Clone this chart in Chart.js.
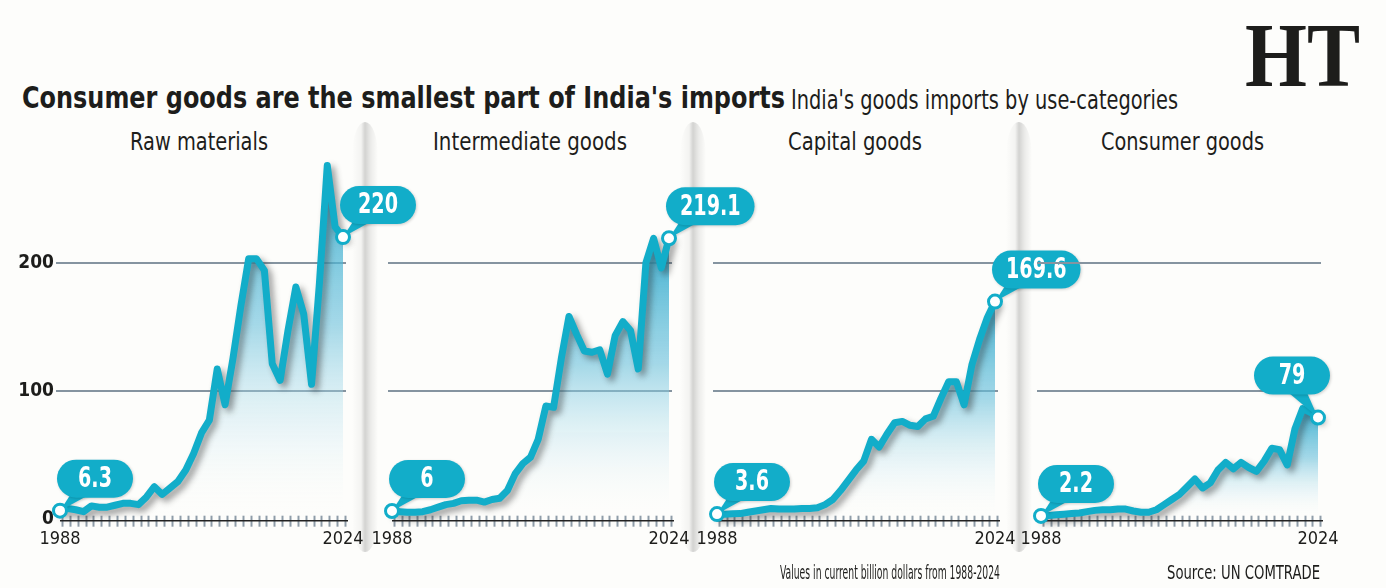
<!DOCTYPE html>
<html>
<head>
<meta charset="utf-8">
<title>India's goods imports by use-categories</title>
<script src="https://cdn.jsdelivr.net/npm/chart.js@4.4.1/dist/chart.umd.min.js"></script>
<style>
  body { margin: 0; background: #fdfdfb; }
  #page {
    position: relative; width: 1386px; height: 588px; overflow: hidden;
    background: #fdfdfb; color: #1d1d1b;
    font-family: "Liberation Sans Narrow", "DejaVu Sans Condensed", sans-serif;
  }
  .txt { position: absolute; white-space: nowrap; transform-origin: 0 0; }
  .fold {
    position: absolute; top: 122px; height: 430px; width: 26px;
    background: linear-gradient(to right, rgba(0,0,0,0) 0%, rgba(0,0,0,0.04) 35%, rgba(0,0,0,0.17) 50%, rgba(0,0,0,0.07) 72%, rgba(0,0,0,0) 100%);
    border-radius: 50% / 8%;
  }
  canvas { position: absolute; }
</style>
</head>
<body>
<div id="page">
  <div class="fold" style="left:352px"></div>
  <div class="fold" style="left:680px"></div>
  <div class="fold" style="left:1006px"></div>

  <div class="txt" data-w="763" style="left:22px;top:80px;font-size:30px;line-height:36px;font-weight:bold;">Consumer goods are the smallest part of India's imports</div>
  <div class="txt" data-w="387" style="left:791px;top:84px;font-size:27px;line-height:32px;">India's goods imports by use-categories</div>
  <div class="txt" data-w="115" style="left:1245px;top:9px;font-family:'Liberation Serif',serif;font-size:92px;line-height:92px;font-weight:bold;">HT</div>

  <div class="txt" data-w="138" style="left:130px;top:127px;font-size:25px;line-height:30px;">Raw materials</div>
  <div class="txt" data-w="194" style="left:433px;top:127px;font-size:25px;line-height:30px;">Intermediate goods</div>
  <div class="txt" data-w="134" style="left:788px;top:127px;font-size:25px;line-height:30px;">Capital goods</div>
  <div class="txt" data-w="163" style="left:1101px;top:127px;font-size:25px;line-height:30px;">Consumer goods</div>

  <canvas id="c1"></canvas>
  <canvas id="c2"></canvas>
  <canvas id="c3"></canvas>
  <canvas id="c4"></canvas>

  <div class="txt" data-w="220" style="left:780px;top:560px;font-size:19px;line-height:24px;">Values in current billion dollars from 1988-2024</div>
  <div class="txt" data-w="153" style="left:1167px;top:560px;font-size:19px;line-height:24px;">Source: UN COMTRADE</div>
</div>

<script>
/* India's goods imports by use-category, billion US$ */

var YEARS = ['1988', '1989', '1990', '1991', '1992', '1993', '1994', '1995', '1996', '1997',
  '1998', '1999', '2000', '2001', '2002', '2003', '2004', '2005', '2006', '2007',
  '2008', '2009', '2010', '2011', '2012', '2013', '2014', '2015', '2016', '2017',
  '2018', '2019', '2020', '2021', '2022', '2023', '2024'];

var RAW_MATERIALS = [6.3, 8, 7, 5.5, 10, 9, 9, 10.5, 12, 12,
  11, 17, 25, 19, 24, 29, 38, 51, 67, 77,
  117, 89, 125, 166, 203, 203, 194, 121, 108, 147,
  181, 160, 105, 184, 276, 228, 220];

var INTERMEDIATE_GOODS = [6, 5.5, 5, 5, 5.5, 7, 9, 11, 12, 14,
  14.5, 14.5, 13, 15, 16, 22, 35, 43, 48, 62,
  88, 87, 125, 158, 144, 131, 130, 132, 113, 143,
  154, 147, 117, 200, 219, 196, 219.1];

var CAPITAL_GOODS = [3.6, 3.5, 3.8, 4, 5, 6, 7, 8, 7.5, 7.5,
  7.5, 8, 8, 8.5, 11, 15, 22, 30, 38, 45,
  62, 56, 66, 75, 76, 73, 72, 78, 80, 94,
  107, 107, 89, 120, 140, 157, 169.6];

var CONSUMER_GOODS = [2.2, 2.5, 3, 3.5, 4, 4.5, 5.5, 6.5, 7, 7,
  7.5, 7.5, 6, 5, 5, 7, 11, 15, 19, 25,
  31, 24, 28, 38, 44, 39, 44, 40, 37, 45,
  55, 54, 42, 70, 86, 83, 79];

var Y_TICKS = [0, 100, 200];
var Y_MAX = 290;

var FONT = '"Liberation Sans Narrow", "DejaVu Sans Condensed", sans-serif';
var CYAN = '#12adc9';
var INK = '#1d1d1b';

// where each small chart sits on the page (x of first and last year)
var PANELS = [
  { id: 'c1', values: RAW_MATERIALS, x0: 60, x1: 343, showY: true, endSide: 'right' },
  { id: 'c2', values: INTERMEDIATE_GOODS, x0: 392, x1: 669, showY: false, endSide: 'right' },
  { id: 'c3', values: CAPITAL_GOODS, x0: 717, x1: 995, showY: false, endSide: 'right' },
  { id: 'c4', values: CONSUMER_GOODS, x0: 1041, x1: 1318, showY: false, endSide: 'left' }
];

var CANVAS_TOP = 120;
var CANVAS_H = 440;
var AXIS_W = 60;
var EXTRA_RIGHT = 90;

function fitTexts() {
  var els = document.querySelectorAll('.txt');
  var i;
  for (i = 0; i < els.length; i += 1) {
    var target = parseFloat(els[i].getAttribute('data-w'));
    var w = els[i].getBoundingClientRect().width;
    if (target && w > 0) {
      els[i].style.transform = 'scaleX(' + (target / w) + ')';
    }
  }
}

function pillPath(ctx, x, y, w, h) {
  var r = h / 2;
  ctx.beginPath();
  ctx.moveTo(x + r, y);
  ctx.lineTo(x + w - r, y);
  ctx.arc(x + w - r, y + r, r, -Math.PI / 2, Math.PI / 2);
  ctx.lineTo(x + r, y + h);
  ctx.arc(x + r, y + r, r, Math.PI / 2, Math.PI * 1.5);
  ctx.closePath();
}

function drawCallout(ctx, px, py, text, side) {
  var squeeze = 0.76;
  ctx.save();
  ctx.font = 'bold 28px ' + FONT;
  var tw = ctx.measureText(text).width * squeeze;
  var w = Math.max(76, tw + 28);
  var h = 38;
  var left, bottom;

  if (side === 'left') {
    left = px + 12 - w;
    bottom = py - 23;
  } else {
    left = px - 3;
    bottom = py - 13;
  }

  ctx.fillStyle = CYAN;
  ctx.shadowColor = 'rgba(0,0,0,0.18)';
  ctx.shadowBlur = 3;
  ctx.shadowOffsetX = 1;
  ctx.shadowOffsetY = 1;

  ctx.beginPath();
  if (side === 'left') {
    ctx.moveTo(left + w - 44, bottom - 4);
    ctx.lineTo(left + w - 24, bottom - 4);
  } else {
    ctx.moveTo(left + 14, bottom - 4);
    ctx.lineTo(left + 34, bottom - 4);
  }
  ctx.lineTo(px, py);
  ctx.closePath();
  ctx.fill();

  pillPath(ctx, left, bottom - h, w, h);
  ctx.fill();

  ctx.shadowColor = 'transparent';
  ctx.fillStyle = '#ffffff';
  ctx.textAlign = 'center';
  ctx.textBaseline = 'middle';
  ctx.translate(left + w / 2, bottom - h / 2 + 1);
  ctx.scale(squeeze, 1);
  ctx.fillText(text, 0, 0);
  ctx.restore();
}

function drawMarker(ctx, px, py) {
  ctx.save();
  ctx.beginPath();
  ctx.arc(px, py, 6.5, 0, Math.PI * 2);
  ctx.fillStyle = '#ffffff';
  ctx.fill();
  ctx.lineWidth = 3;
  ctx.strokeStyle = CYAN;
  ctx.stroke();
  ctx.restore();
}

var panelDeco = {
  id: 'panelDeco',
  beforeDatasetsDraw: function (chart) {
    var ctx = chart.ctx;
    var xs = chart.scales.x;
    var ys = chart.scales.y;
    var area = chart.chartArea;
    var base = ys.getPixelForValue(0);
    var i;

    ctx.save();
    ctx.strokeStyle = '#8594a0';
    ctx.lineWidth = 2;
    for (i = 0; i < Y_TICKS.length; i += 1) {
      if (Y_TICKS[i] === 0) {
        continue;
      }
      var gy = Math.round(ys.getPixelForValue(Y_TICKS[i]));
      ctx.beginPath();
      ctx.moveTo(area.left - 4, gy);
      ctx.lineTo(area.right + 3, gy);
      ctx.stroke();
    }

    ctx.strokeStyle = '#8e9ca8';
    ctx.lineWidth = 2;
    for (i = 0; i < YEARS.length; i += 1) {
      var tx = Math.round(xs.getPixelForValue(i)) + 2.5;
      ctx.beginPath();
      ctx.moveTo(tx, base - 3);
      ctx.lineTo(tx, base + 8);
      ctx.stroke();
    }

    ctx.strokeStyle = '#222222';
    ctx.lineWidth = 1.5;
    ctx.beginPath();
    ctx.moveTo(area.left, base + 2);
    ctx.lineTo(area.right + 5, base + 2);
    ctx.stroke();
    ctx.restore();
  },
  beforeDatasetDraw: function (chart) {
    var ctx = chart.ctx;
    ctx.save();
    ctx.shadowColor = 'rgba(40,40,40,0.45)';
    ctx.shadowBlur = 6;
    ctx.shadowOffsetX = 4;
    ctx.shadowOffsetY = 4;
  },
  afterDatasetDraw: function (chart) {
    chart.ctx.restore();
  },
  afterDatasetsDraw: function (chart) {
    var ctx = chart.ctx;
    var meta = chart.getDatasetMeta(0);
    var values = chart.data.datasets[0].data;
    var last = values.length - 1;
    var first = meta.data[0];
    var end = meta.data[last];
    var side = chart.options.plugins.panelDeco.endSide;

    drawCallout(ctx, first.x, first.y, String(values[0]), 'right');
    drawCallout(ctx, end.x, end.y, String(values[last]), side);
    drawMarker(ctx, first.x, first.y);
    drawMarker(ctx, end.x, end.y);
  }
};

function fillGradient(values) {
  var top = Math.max.apply(null, values);
  return function (c) {
    var chart = c.chart;
    if (!chart.chartArea) {
      return 'rgba(0,0,0,0)';
    }
    var ys = chart.scales.y;
    var g = chart.ctx.createLinearGradient(0, ys.getPixelForValue(top), 0, ys.getPixelForValue(0));
    g.addColorStop(0, 'rgba(40,166,203,0.9)');
    g.addColorStop(0.45, 'rgba(105,192,219,0.6)');
    g.addColorStop(1, 'rgba(255,255,255,0)');
    return g;
  };
}

function buildPanel(p) {
  var canvas = document.getElementById(p.id);
  var width = (p.x1 - p.x0) + AXIS_W + EXTRA_RIGHT;
  var areaH = (Y_MAX / 100) * 128;
  var axisH = 41.3;
  canvas.width = width;
  canvas.height = CANVAS_H;
  canvas.style.left = (p.x0 - AXIS_W) + 'px';
  canvas.style.top = CANVAS_TOP + 'px';

  return new Chart(canvas.getContext('2d'), {
    type: 'line',
    data: {
      labels: YEARS,
      datasets: [{
        data: p.values,
        borderColor: CYAN,
        borderWidth: 7,
        borderJoinStyle: 'round',
        borderCapStyle: 'round',
        tension: 0,
        pointRadius: 0,
        clip: false,
        fill: 'origin',
        backgroundColor: fillGradient(p.values)
      }]
    },
    options: {
      responsive: false,
      animation: false,
      devicePixelRatio: 1,
      layout: {
        padding: { top: CANVAS_H - axisH - areaH, right: EXTRA_RIGHT, bottom: 0, left: 0 }
      },
      plugins: {
        legend: { display: false },
        tooltip: { enabled: false },
        panelDeco: { endSide: p.endSide }
      },
      scales: {
        x: {
          type: 'category',
          offset: false,
          grid: { display: false, drawTicks: false },
          border: { display: false },
          ticks: {
            autoSkip: false,
            maxRotation: 0,
            padding: 10,
            color: INK,
            font: { family: FONT, size: 18 },
            callback: function (v, i) {
              return (i === 0 || i === YEARS.length - 1) ? YEARS[i] : '';
            }
          },
          afterFit: function (s) { s.height = axisH; }
        },
        y: {
          min: 0,
          max: Y_MAX,
          grid: { display: false, drawTicks: false },
          border: { display: false },
          afterBuildTicks: function (s) {
            s.ticks = Y_TICKS.map(function (v) { return { value: v }; });
          },
          ticks: {
            display: p.showY,
            autoSkip: false,
            padding: 6,
            color: INK,
            font: { family: FONT, size: 19, weight: 'bold' },
            callback: function (v) {
              return String(v);
            }
          },
          afterFit: function (s) { s.width = AXIS_W; }
        }
      }
    },
    plugins: [panelDeco]
  });
}

Chart.defaults.font.family = FONT;
fitTexts();
PANELS.forEach(buildPanel);
</script>
</body>
</html>
